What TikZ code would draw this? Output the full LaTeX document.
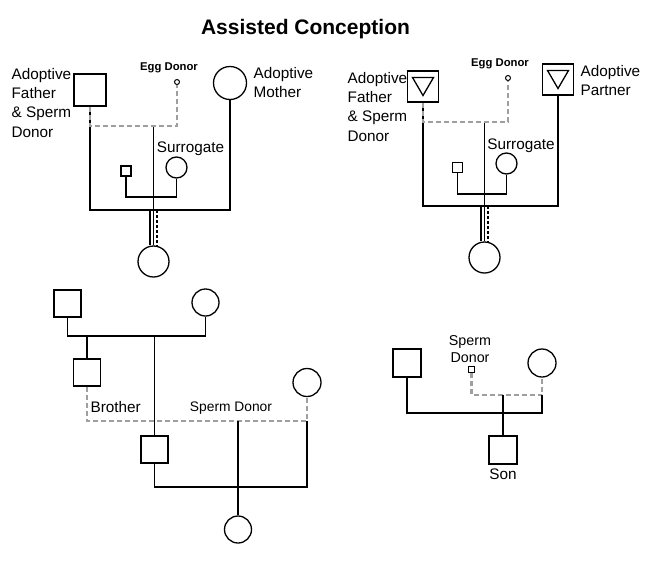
\documentclass[tikz,border=0pt]{standalone}
\usepackage{fontspec}
\setmainfont{Liberation Sans}
\usepackage{tikz}
\usetikzlibrary{positioning}

\newcommand\lblfont{\fontsize{15.3}{19.3}\selectfont}
\newcommand\smlfont{\fontsize{13.8}{16.5}\selectfont}
\newcommand\eggfont{\fontsize{11.3}{13}\selectfont\bfseries}

\begin{document}
\begin{tikzpicture}[
    x=1pt, y=-1pt,
    line width=1.3pt,
    male/.style={rectangle, draw, fill=white, minimum size=#1, inner sep=0pt},
    female/.style={circle, draw, fill=white, minimum size=#1, inner sep=0pt},
    lbl/.style={font=\lblfont, align=left, inner sep=0pt},
    donor/.style={draw=gray!75, line width=2.4pt, dash pattern=on 5pt off 3pt},
    carrier/.style={line width=1.1pt, dash pattern=on 3pt off 2pt}
]
\useasboundingbox (0,0) rectangle (652,560);

\node[font=\fontsize{21}{24}\selectfont\bfseries, anchor=base] (title) at (305.5,34) {Assisted Conception};

% top left: adoptive father and mother
\node[male=32pt] (fa1) at (90,90) {};
\node[female=33pt] (mo1) at (230,83) {};
\node[female=5pt, line width=1pt] (eg1) at (177,82) {};
\node[female=21pt] (su1) at (176.5,167.5) {};
\node[male=10pt] (ss1) at (126,171) {};
\node[female=31pt] (ch1) at (153.5,261.5) {};
\coordinate (j1) at (153.5,126);
\coordinate (k1) at (153.5,197);
\coordinate (m1) at (153.5,210);

\node[lbl, anchor=north west] (fa1l) at (11,67.5) {Adoptive\\Father\\\& Sperm\\Donor};
\node[lbl, anchor=north west] (mo1l) at (253,66.5) {Adoptive\\Mother};
\node[font=\eggfont, anchor=base] (eg1l) at (169,70.5) {Egg Donor};
\node[font=\lblfont, anchor=base] (su1l) at (190.5,152.5) {Surrogate};

\draw (fa1.south) |- (m1) -| (mo1.south);
\draw (ss1.south) |- (k1) -| (su1.south);
\draw (j1) -- (ch1.north);
\draw ([xshift=-3.5pt]m1) -- ([xshift=-3.5pt]ch1.north);
\draw[carrier] ([xshift=3.5pt]m1) -- ([xshift=3.5pt]ch1.north);
\draw[donor] (fa1.south) |- (j1) -| (eg1.south);

% top right: adoptive father and partner
\node[male=31pt] (fa2) at (423,86.5) {};
\node[male=31pt] (pa2) at (558,79.5) {};
\node[female=5pt, line width=1pt] (eg2) at (508,78) {};
\node[female=21pt] (su2) at (506.5,163.5) {};
\node[male=10pt] (ss2) at (457.5,167.5) {};
\node[female=31pt] (ch2) at (484.5,257.5) {};
\coordinate (j2) at (484.5,122);
\coordinate (k2) at (484.5,194);
\coordinate (m2) at (484.5,206);

\draw ([shift={(-10.5,-9)}]fa2.center) -- ([shift={(10.5,-9)}]fa2.center) -- ([shift={(0,9)}]fa2.center) -- cycle;
\draw ([shift={(-10.5,-9)}]pa2.center) -- ([shift={(10.5,-9)}]pa2.center) -- ([shift={(0,9)}]pa2.center) -- cycle;

\node[lbl, anchor=north west] (fa2l) at (347,71.5) {Adoptive\\Father\\\& Sperm\\Donor};
\node[lbl, anchor=north west] (pa2l) at (580,64.5) {Adoptive\\Partner};
\node[font=\eggfont, anchor=base] (eg2l) at (500,66.5) {Egg Donor};
\node[font=\lblfont, anchor=base] (su2l) at (521,149) {Surrogate};

\draw (fa2.south) |- (m2) -| (pa2.south);
\draw (ss2.south) |- (k2) -| (su2.south);
\draw (j2) -- (ch2.north);
\draw ([xshift=-3.5pt]m2) -- ([xshift=-3.5pt]ch2.north);
\draw[carrier] ([xshift=3.5pt]m2) -- ([xshift=3.5pt]ch2.north);
\draw[donor] (fa2.south) |- (j2) -| (eg2.south);

% bottom left: brother as sperm donor
\node[male=27pt] (gf3) at (67.5,303.5) {};
\node[female=27pt] (gm3) at (205.5,302.5) {};
\node[male=27pt] (br3) at (87,372.5) {};
\node[male=27pt] (so3) at (154.5,449.5) {};
\node[female=28pt] (wo3) at (307,382.5) {};
\node[female=27pt] (ch3) at (238,529.5) {};
\coordinate (m3) at (154.5,336);
\coordinate (j3) at (238,421);
\coordinate (k3) at (238,487);

\node[font=\lblfont, anchor=base west, inner sep=0pt] (br3l) at (90,412) {Brother};
\node[font=\smlfont, anchor=base] (sd3l) at (231,411.5) {Sperm Donor};

\draw[donor] (br3.south) |- (j3) -| (wo3.south);
\draw (gf3.south) |- (m3) -| (gm3.south);
\draw (br3.north) -- (br3.north |- m3);
\draw (m3) -- (so3.north);
\draw (so3.south) |- (k3) -| (wo3.south |- j3);
\draw (j3) -- (ch3.north);

% bottom right: sperm donor and son
\node[male=28pt] (fa4) at (407,363) {};
\node[female=28pt] (mo4) at (542,363) {};
\node[male=6pt, line width=1pt] (sd4) at (471.5,369.5) {};
\node[male=28pt] (so4) at (503,450) {};
\coordinate (j4) at (503,395);
\coordinate (k4) at (503,413);

\node[font=\fontsize{14.3}{16.5}\selectfont, align=center, anchor=south] (sd4l) at (470,366.5) {Sperm\\Donor};
\node[font=\lblfont, anchor=base] (so4l) at (503,479.5) {Son};

\draw[donor] (sd4.south) |- (j4) -| (mo4.south);
\draw (fa4.south) |- (k4) -| (mo4.south |- j4);
\draw (j4) -- (so4.north);

\end{tikzpicture}
\end{document}
